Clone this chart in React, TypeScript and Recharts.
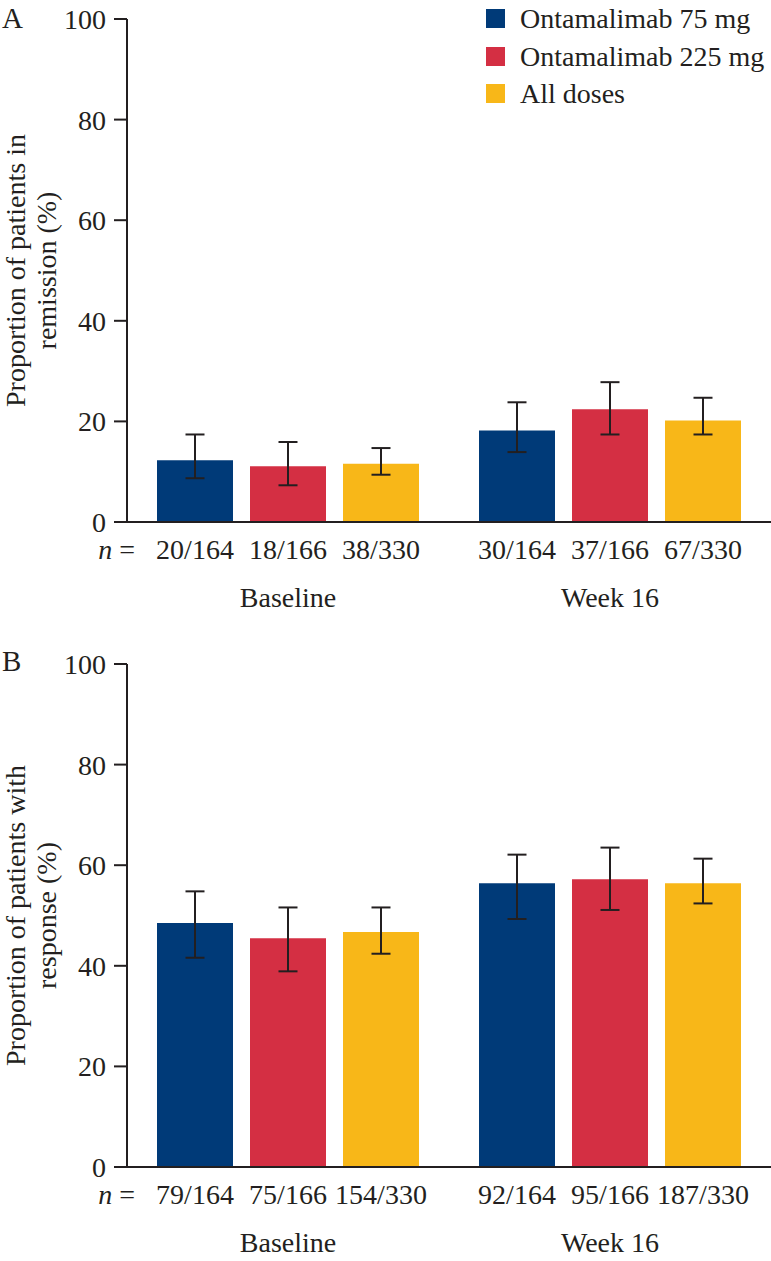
import { BarChart, Bar, XAxis, YAxis, ErrorBar, LabelList, Legend } from 'recharts';

const INK = '#231f20';
const FONT = "'Liberation Serif', 'Times New Roman', serif";

const categories = ['Baseline', 'Week 16'];
const seriesNames = ['Ontamalimab 75 mg', 'Ontamalimab 225 mg', 'All doses'];
const seriesColors = ['#003a78', '#d42f43', '#f8b718'];
const yTicks = [0, 20, 40, 60, 80, 100];

// A: remission (%), per dose group, [Baseline, Week 16]
const remission75 = [12.3, 18.2];
const remission225 = [11.1, 22.4];
const remissionAll = [11.6, 20.2];
const remissionCi75 = [[8.7, 17.4], [13.9, 23.8]];
const remissionCi225 = [[7.3, 15.9], [17.4, 27.8]];
const remissionCiAll = [[9.4, 14.7], [17.4, 24.7]];
const remissionN75 = ['20/164', '30/164'];
const remissionN225 = ['18/166', '37/166'];
const remissionNAll = ['38/330', '67/330'];

// B: response (%)
const response75 = [48.5, 56.4];
const response225 = [45.5, 57.2];
const responseAll = [46.7, 56.4];
const responseCi75 = [[41.6, 54.8], [49.3, 62.1]];
const responseCi225 = [[38.9, 51.6], [51.1, 63.5]];
const responseCiAll = [[42.4, 51.6], [52.4, 61.3]];
const responseN75 = ['79/164', '92/164'];
const responseN225 = ['75/166', '95/166'];
const responseNAll = ['154/330', '187/330'];

function buildRows(values: number[][], cis: number[][][], ns: string[][]) {
  return categories.map((name, i) => {
    const row: Record<string, unknown> = { name };
    values.forEach((v, s) => {
      row[`v${s}`] = v[i];
      row[`e${s}`] = [v[i] - cis[s][i][0], cis[s][i][1] - v[i]];
      row[`n${s}`] = ns[s][i];
    });
    return row;
  });
}

const remissionRows = buildRows(
  [remission75, remission225, remissionAll],
  [remissionCi75, remissionCi225, remissionCiAll],
  [remissionN75, remissionN225, remissionNAll],
);
const responseRows = buildRows(
  [response75, response225, responseAll],
  [responseCi75, responseCi225, responseCiAll],
  [responseN75, responseN225, responseNAll],
);

const renderCategoryTick = (props: any) => (
  <text x={props.x} y={props.y + 85} textAnchor="middle" fontSize={28} fill={INK}>
    {props.payload.value}
  </text>
);

const renderNLabel = (props: any) => (
  <text
    x={Number(props.x) + Number(props.width) / 2}
    y={Number(props.y) + Number(props.height) + 37}
    textAnchor="middle"
    fontSize={28}
    fill={INK}
  >
    {props.value}
  </text>
);

const makeYLabel = (lines: string[]) => (props: any) => {
  const { x, y, width, height } = props.viewBox;
  const cy = y + height / 2;
  return (
    <g>
      {lines.map((line, i) => {
        const bx = x + 25 + i * 31;
        return (
          <text key={line} x={bx} y={cy} transform={`rotate(-90 ${bx} ${cy})`} textAnchor="middle" fontSize={28} fill={INK}>
            {line}
          </text>
        );
      })}
      <text x={x + width + 8} y={y + height + 37} textAnchor="end" fontSize={28} fill={INK}>
        <tspan fontStyle="italic">n</tspan> =
      </text>
    </g>
  );
};

// keep legend in series order (recharts sorts by name otherwise)
const renderLegend = (props: any) => {
  const items = [...(props.payload ?? [])].sort(
    (a: any, b: any) => seriesNames.indexOf(a.value) - seriesNames.indexOf(b.value),
  );
  return (
    <div>
      {items.map((entry: any) => (
        <div key={entry.value} style={{ display: 'flex', alignItems: 'center', height: 37.5 }}>
          <span style={{ display: 'inline-block', width: 19, height: 19, background: entry.color, marginRight: 15 }} />
          <span style={{ fontSize: 28, lineHeight: '37.5px', color: INK, whiteSpace: 'nowrap' }}>{entry.value}</span>
        </div>
      ))}
    </div>
  );
};

interface PanelProps {
  letter: string;
  letterTop: number;
  rows: Record<string, unknown>[];
  labelLines: string[];
  top: number;
  height: number;
  xAxisHeight: number;
  showLegend?: boolean;
}

function Panel({ letter, letterTop, rows, labelLines, top, height, xAxisHeight, showLegend }: PanelProps) {
  return (
    <div style={{ position: 'absolute', left: 0, top, width: 771, height }}>
      <BarChart
        width={771}
        height={height}
        data={rows}
        margin={{ top: 19, right: 0, bottom: 0, left: 0 }}
        barSize={76}
        barGap={17}
      >
        <XAxis
          dataKey="name"
          height={xAxisHeight}
          interval={0}
          axisLine={{ stroke: INK, strokeWidth: 2 }}
          tickLine={false}
          tickSize={0}
          tickMargin={0}
          tick={renderCategoryTick}
        />
        <YAxis
          width={127}
          domain={[0, 100]}
          ticks={yTicks}
          interval={0}
          tickSize={13}
          tickMargin={8}
          axisLine={{ stroke: INK, strokeWidth: 2 }}
          tickLine={{ stroke: INK, strokeWidth: 2 }}
          tick={{ fontSize: 28, fill: INK }}
          label={{ content: makeYLabel(labelLines) }}
        />
        {showLegend && (
          <Legend
            layout="vertical"
            align="center"
            verticalAlign="middle"
            itemSorter={null}
            content={renderLegend}
            wrapperStyle={{ top: 0, left: 486, width: 285, height: 115 }}
          />
        )}
        {seriesNames.map((name, s) => (
          <Bar key={name} dataKey={`v${s}`} name={name} fill={seriesColors[s]} isAnimationActive={false}>
            <ErrorBar dataKey={`e${s}`} width={9.5} stroke={INK} strokeWidth={2} direction="y" isAnimationActive={false} />
            <LabelList dataKey={`n${s}`} content={renderNLabel} />
          </Bar>
        ))}
      </BarChart>
      <div style={{ position: 'absolute', left: 2, top: letterTop, fontSize: 29, lineHeight: '37px', color: INK }}>
        {letter}
      </div>
    </div>
  );
}

export default function App() {
  return (
    <div style={{ position: 'absolute', left: 0, top: 0, width: 771, height: 1261, background: '#fff', fontFamily: FONT }}>
      <Panel
        letter="A"
        letterTop={0}
        rows={remissionRows}
        labelLines={['Proportion of patients in', 'remission (%)']}
        top={0}
        height={625}
        xAxisHeight={103}
        showLegend
      />
      <Panel
        letter="B"
        letterTop={-2}
        rows={responseRows}
        labelLines={['Proportion of patients with', 'response (%)']}
        top={645}
        height={616}
        xAxisHeight={94}
      />
    </div>
  );
}
